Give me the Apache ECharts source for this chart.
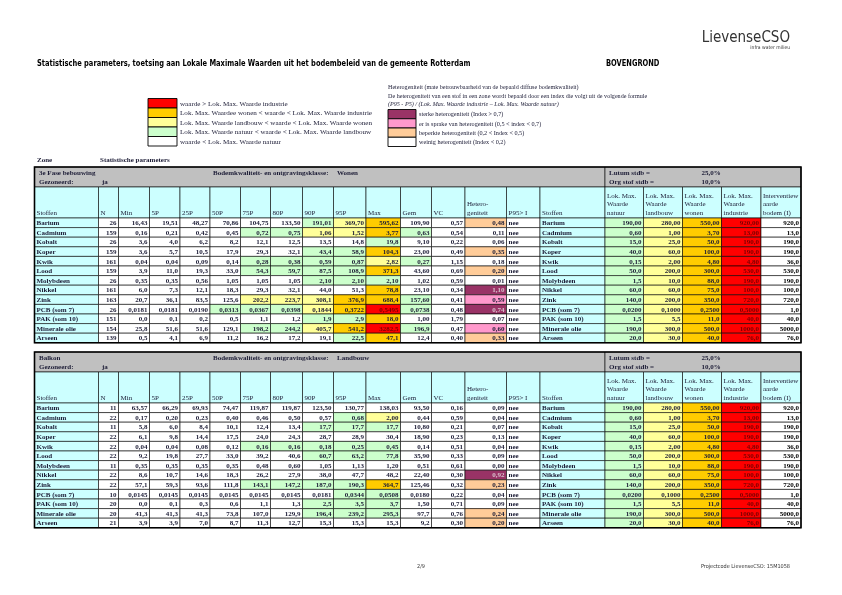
<!DOCTYPE html>
<html><head><meta charset="utf-8">
<script src="https://cdn.jsdelivr.net/npm/echarts@6/dist/echarts.min.js"></script>
<style>html,body{margin:0;padding:0;background:#fff}#c{width:842px;height:595px}</style>
</head><body><div id="c"></div>
<script>
// ---------- DATA ----------
const stoffen = ['Barium','Cadmium','Kobalt','Koper','Kwik','Lood','Molybdeen','Nikkel','Zink','PCB (som 7)','PAK (som 10)','Minerale olie','Arseen'];
const colHeaders = ['Stoffen','N','Min','5P','25P','50P','75P','80P','90P','95P','Max','Gem','VC','Hetero-\ngeniteit','P95> I','Stoffen','Lok. Max.\nWaarde\nnatuur','Lok. Max.\nWaarde\nlandbouw','Lok. Max.\nWaarde\nwonen','Lok. Max.\nWaarde\nindustrie','Interventiew\naarde\nbodem (I)'];
const lmwNatuur    = ['190,00','0,60','15,0','40,0','0,15','50,0','1,5','60,0','140,0','0,0200','1,5','190,0','20,0'];
const lmwLandbouw  = ['280,00','1,00','25,0','60,0','2,00','200,0','10,0','60,0','200,0','0,1000','5,5','300,0','30,0'];
const lmwWonen     = ['550,00','3,70','50,0','100,0','4,80','300,0','88,0','75,0','350,0','0,2500','11,0','500,0','40,0'];
const lmwIndustrie = ['920,00','13,00','190,0','190,0','4,80','530,0','190,0','100,0','720,0','0,5000','40,0','1000,0','76,0'];
const interventie  = ['920,0','13,0','190,0','190,0','36,0','530,0','190,0','100,0','720,0','1,0','40,0','5000,0','76,0'];

// zone info
const zoneNames = ['3e Fase bebouwing','Balkon'];
const zoneKlasse = ['Wonen','Landbouw'];
const zoneGezoneerd = ['ja','ja'];
const zoneLutum = ['25,0%','25,0%'];
const zoneOrgStof = ['10,0%','10,0%'];

// stats: N, Min, 5P, 25P, 50P, 75P, 80P, 90P, 95P, Max, Gem, VC, Heterogeniteit
const statsFase3 = [
['26','16,43','19,51','48,27','70,86','104,75','133,50','191,01','369,70','595,62','109,90','0,57','0,48'],
['159','0,16','0,21','0,42','0,45','0,72','0,75','1,06','1,52','3,77','0,63','0,54','0,11'],
['26','3,6','4,0','6,2','8,2','12,1','12,5','13,5','14,8','19,8','9,10','0,22','0,06'],
['159','3,6','5,7','10,5','17,9','29,3','32,1','43,4','58,9','104,3','23,00','0,49','0,35'],
['161','0,04','0,04','0,09','0,14','0,28','0,38','0,59','0,87','2,82','0,27','1,15','0,18'],
['159','3,9','11,0','19,3','33,0','54,3','59,7','87,5','108,9','371,3','43,60','0,69','0,20'],
['26','0,35','0,35','0,56','1,05','1,05','1,05','2,10','2,10','2,10','1,02','0,59','0,01'],
['161','6,0','7,3','12,1','18,3','29,3','32,1','44,0','51,3','78,8','23,10','0,34','1,10'],
['163','20,7','36,1','83,5','125,6','202,2','223,7','308,1','376,9','688,4','157,60','0,41','0,59'],
['26','0,0181','0,0181','0,0190','0,0313','0,0367','0,0398','0,1844','0,3722','0,5495','0,0738','0,48','0,74'],
['151','0,0','0,1','0,2','0,5','1,1','1,2','1,9','2,9','18,0','1,00','1,79','0,07'],
['154','25,8','51,6','51,6','129,1','198,2','244,2','405,7','541,2','3282,5','196,9','0,47','0,60'],
['139','0,5','4,1','6,9','11,2','16,2','17,2','19,1','22,5','47,1','12,4','0,40','0,33']
];
const statsBalkon = [
['11','63,57','66,29','69,93','74,47','119,87','119,87','123,50','130,77','138,03','93,50','0,16','0,09'],
['22','0,17','0,20','0,23','0,40','0,46','0,50','0,57','0,68','2,00','0,44','0,59','0,04'],
['11','5,8','6,0','8,4','10,1','12,4','13,4','17,7','17,7','17,7','10,80','0,21','0,07'],
['22','6,1','9,8','14,4','17,5','24,0','24,3','28,7','28,9','30,4','18,90','0,23','0,13'],
['22','0,04','0,04','0,08','0,12','0,16','0,16','0,18','0,25','0,45','0,14','0,51','0,04'],
['22','9,2','19,8','27,7','33,0','39,2','40,6','60,7','63,2','77,8','35,90','0,33','0,09'],
['11','0,35','0,35','0,35','0,35','0,48','0,60','1,05','1,13','1,20','0,51','0,61','0,00'],
['22','8,6','10,7','14,6','18,3','26,2','27,9','38,0','47,7','48,2','22,40','0,30','0,92'],
['22','57,1','59,3','93,6','111,8','143,1','147,2','187,0','190,3','364,7','125,46','0,32','0,23'],
['10','0,0145','0,0145','0,0145','0,0145','0,0145','0,0145','0,0181','0,0344','0,0508','0,0180','0,22','0,04'],
['20','0,0','0,1','0,3','0,6','1,1','1,3','2,5','3,5','3,7','1,50','0,71','0,09'],
['20','41,3','41,3','41,3','73,8','107,0','129,9','196,4','239,2','295,3','97,7','0,76','0,24'],
['21','3,9','3,9','7,0','8,7','11,3','12,7','15,3','15,3','15,3','9,2','0,30','0,20']
];
const p95GtI = ['nee','nee','nee','nee','nee','nee','nee','nee','nee','nee','nee','nee','nee'];

const legendLmw = ['waarde > Lok. Max. Waarde industrie','Lok. Max. Waardee wonen < waarde < Lok. Max. Waarde industrie','Lok. Max. Waarde landbouw < waarde < Lok. Max. Waarde wonen','Lok. Max. Waarde natuur < waarde < Lok. Max. Waarde landbouw','waarde < Lok. Max. Waarde natuur'];
const legendHetero = ['sterke heterogeniteit (Index > 0,7)','er is sprake van heterogeniteit (0,5 < index < 0,7)','beperkte heterogeniteit (0,2 < Index < 0,5)','weinig heterogeniteit (Index < 0,2)'];

// ---------- LAYOUT / STYLE ----------
const C_RED='#FF0000', C_ORA='#FFCC00', C_YEL='#FFFF99', C_GRN='#CCFFCC', C_WHT='#FFFFFF';
const C_DARK='#993366', C_PINK='#FF99CC', C_PEACH='#FFCC99';
const C_CYAN='#CCFFFF', C_GRAY='#C0C0C0';
const TXT='#1c1c36';
const SERIF="'Liberation Serif','DejaVu Serif',serif";
const colEdges=[34.5,98.5,118.5,149.5,180,210,240.5,270.5,302.5,333.5,366,400.5,431.5,465,506.5,540,605,643.5,682.5,721.5,761,801];
const tableTops=[167,352];
const grayH=20, headerH=31, rowH=9.6;
const FS=7;

const num=s=>parseFloat(String(s).replace(',','.'));
function lmwColor(v,i){
  if(v>num(lmwIndustrie[i]))return C_RED;
  if(v>num(lmwWonen[i]))return C_ORA;
  if(v>num(lmwLandbouw[i]))return C_YEL;
  if(v>num(lmwNatuur[i]))return C_GRN;
  return C_WHT;
}
function heteroColor(v){ if(v>0.7)return C_DARK; if(v>=0.5)return C_PINK; if(v>=0.2)return C_PEACH; return C_WHT; }

const cells=[];
function add(x0,y0,x1,y1,o){cells.push(Object.assign({x0,y0,x1,y1,fill:'none',stroke:'#000',lw:0.6,text:'',align:'right',va:'middle',bold:true,color:TXT,lh:8.5,size:FS},o||{}));}

const allStats=[statsFase3,statsBalkon];
allStats.forEach((stats,t)=>{
  const top=tableTops[t];
  add(colEdges[0],top,colEdges[16],top+grayH,{fill:C_GRAY});
  add(colEdges[16],top,colEdges[21],top+grayH,{fill:C_GRAY});
  const g1=top+grayH/4+0.3, g2=top+grayH*3/4;
  const T=(x,y,txt,align)=>add(x,y-4,x,y+4,{stroke:'none',text:txt,align:align||'left'});
  T(37,g1,zoneNames[t]); T(211,g1,'Bodemkwaliteit- en ontgravingsklasse:'); T(335,g1,zoneKlasse[t]);
  T(607,g1,'Lutum stdb ='); T(711,g1,zoneLutum[t],'center');
  T(37,g2,'Gezoneerd:'); T(100,g2,zoneGezoneerd[t]);
  T(607,g2,'Org stof stdb ='); T(711,g2,zoneOrgStof[t],'center');
  const hy0=top+grayH, hy1=hy0+headerH;
  colHeaders.forEach((h,c)=>add(colEdges[c],hy0,colEdges[c+1],hy1,{fill:C_CYAN,text:h,align:'left',va:'bottom',bold:false}));
  stoffen.forEach((s,r)=>{
    const y0=hy1+r*rowH, y1=y0+rowH;
    add(colEdges[0],y0,colEdges[1],y1,{fill:C_CYAN,text:s,align:'left'});
    stats[r].forEach((v,k)=>{
      let fill=C_WHT, color=TXT;
      if(k>=1&&k<=10){fill=lmwColor(num(v),r);}
      if(k===12){fill=heteroColor(num(v)); if(fill===C_DARK)color='#d8c0cc';}
      if(fill===C_RED)color='#7a0000';
      add(colEdges[k+1],y0,colEdges[k+2],y1,{fill,text:v,color});
    });
    add(colEdges[14],y0,colEdges[15],y1,{fill:C_WHT,text:p95GtI[r],align:'left'});
    add(colEdges[15],y0,colEdges[16],y1,{fill:C_CYAN,text:s,align:'left'});
    add(colEdges[16],y0,colEdges[17],y1,{fill:C_GRN,text:lmwNatuur[r]});
    add(colEdges[17],y0,colEdges[18],y1,{fill:C_YEL,text:lmwLandbouw[r]});
    add(colEdges[18],y0,colEdges[19],y1,{fill:C_ORA,text:lmwWonen[r]});
    add(colEdges[19],y0,colEdges[20],y1,{fill:C_RED,text:lmwIndustrie[r],color:'#7a0000'});
    add(colEdges[20],y0,colEdges[21],y1,{fill:C_WHT,text:interventie[r],color:'#000'});
  });
  add(colEdges[0],top,colEdges[21],hy1+stoffen.length*rowH,{lw:1.6});
});

function renderItem(params,api){
  const c=cells[params.dataIndex];
  const p0=api.coord([api.value(0),api.value(1)]);
  const p1=api.coord([api.value(2),api.value(3)]);
  const x=p0[0],y=p0[1],w=p1[0]-p0[0],h=p1[1]-p0[1];
  const ch=[];
  if(w>0&&(c.fill!=='none'||c.stroke!=='none'))ch.push({type:'rect',shape:{x,y,width:w,height:h},style:{fill:c.fill,stroke:c.stroke==='none'?null:c.stroke,lineWidth:c.lw}});
  if(c.text){
    let tx=c.align==='left'?x+2:(c.align==='right'?x+w-2:x+w/2);
    let ty=c.va==='bottom'?y+h-1:y+h/2+0.5;
    ch.push({type:'text',style:{text:c.text,x:tx,y:ty,align:c.align,verticalAlign:c.va,fill:c.color,lineHeight:c.lh,font:(c.bold?'bold ':'')+c.size+'px '+SERIF}});
  }
  return {type:'group',children:ch};
}

// legend graphics
const gfx=[];
const lmwCols=[C_RED,C_ORA,C_YEL,C_GRN,C_WHT];
const lmwTop=98.5, lmwRowH=9.5;
legendLmw.forEach((s,i)=>{
  const y=lmwTop+i*lmwRowH;
  gfx.push({type:'rect',shape:{x:148,y,width:29,height:lmwRowH},style:{fill:lmwCols[i],stroke:'#000',lineWidth:0.9}});
  gfx.push({type:'text',x:180,y:y+lmwRowH/2+0.5,style:{text:s,font:'7.1px '+SERIF,fill:TXT,verticalAlign:'middle'}});
});
const hCols=[C_DARK,C_PINK,C_PEACH,C_WHT];
const hTop=109.5, hRowH=9.25;
legendHetero.forEach((s,i)=>{
  const y=hTop+i*hRowH;
  gfx.push({type:'rect',shape:{x:388,y,width:28,height:hRowH},style:{fill:hCols[i],stroke:'#000',lineWidth:0.9}});
  gfx.push({type:'text',x:419,y:y+hRowH/2+0.5,style:{text:s,font:'6.2px '+SERIF,fill:TXT,verticalAlign:'middle'}});
});
const HFONT='6.1px '+SERIF;
gfx.push({type:'text',x:388,y:87,style:{text:'Heterogeniteit (mate betrouwbaarheid van de bepaald diffuse bodemkwaliteit)',font:HFONT,fill:TXT,verticalAlign:'middle'}});
gfx.push({type:'text',x:388,y:96,style:{text:'De heterogeniteit van een stof in een zone wordt bepaald door een index die volgt uit de volgende formule',font:HFONT,fill:TXT,verticalAlign:'middle'}});
gfx.push({type:'text',x:388,y:104.5,style:{text:'(P95 - P5) / (Lok. Max. Waarde industrie – Lok. Max. Waarde natuur)',font:'italic '+HFONT,fill:TXT,verticalAlign:'middle'}});
// titles
const SANS="'Liberation Sans Narrow','DejaVu Sans Condensed','Liberation Sans',sans-serif";
gfx.push({type:'text',x:37,y:64,scaleX:0.875,style:{text:'Statistische parameters, toetsing aan Lokale Maximale Waarden uit het bodembeleid van de gemeente Rotterdam',x:0,y:0,font:'bold 8.5px '+SANS,fill:'#000',verticalAlign:'middle'}});
gfx.push({type:'text',x:606,y:64,scaleX:0.875,style:{text:'BOVENGROND',x:0,y:0,font:'bold 8.5px '+SANS,fill:'#000',verticalAlign:'middle'}});
gfx.push({type:'text',x:790,y:38,style:{text:'LievenseCSO',font:'15px '+SANS,fill:'#333',verticalAlign:'middle',align:'right'}});
gfx.push({type:'text',x:790,y:47.5,style:{text:'infra water milieu',font:'5px '+SANS,fill:'#333',verticalAlign:'middle',align:'right'}});
gfx.push({type:'text',x:37,y:160,style:{text:'Zone',font:'bold 7px '+SERIF,fill:TXT,verticalAlign:'middle'}});
gfx.push({type:'text',x:100,y:160,style:{text:'Statistische parameters',font:'bold 7px '+SERIF,fill:TXT,verticalAlign:'middle'}});
gfx.push({type:'text',x:421,y:567,style:{text:'2/9',font:'5.5px '+SANS,fill:'#333',verticalAlign:'middle',align:'center'}});
gfx.push({type:'text',x:790,y:567,style:{text:'Projectcode LievenseCSO: 15M1058',font:'5.5px '+SANS,fill:'#333',verticalAlign:'middle',align:'right'}});

const chart=echarts.init(document.getElementById('c'),null,{renderer:'canvas'});
chart.setOption({
  animation:false,
  backgroundColor:'#fff',
  grid:{left:0,right:0,top:0,bottom:0},
  xAxis:{type:'value',min:0,max:842,show:false},
  yAxis:{type:'value',min:0,max:595,inverse:true,show:false},
  graphic:{elements:gfx},
  series:[{type:'custom',coordinateSystem:'cartesian2d',clip:false,silent:true,
    encode:{x:[0,2],y:[1,3]},
    data:cells.map(c=>[c.x0,c.y0,c.x1,c.y1]),
    renderItem}]
});
</script></body></html>
